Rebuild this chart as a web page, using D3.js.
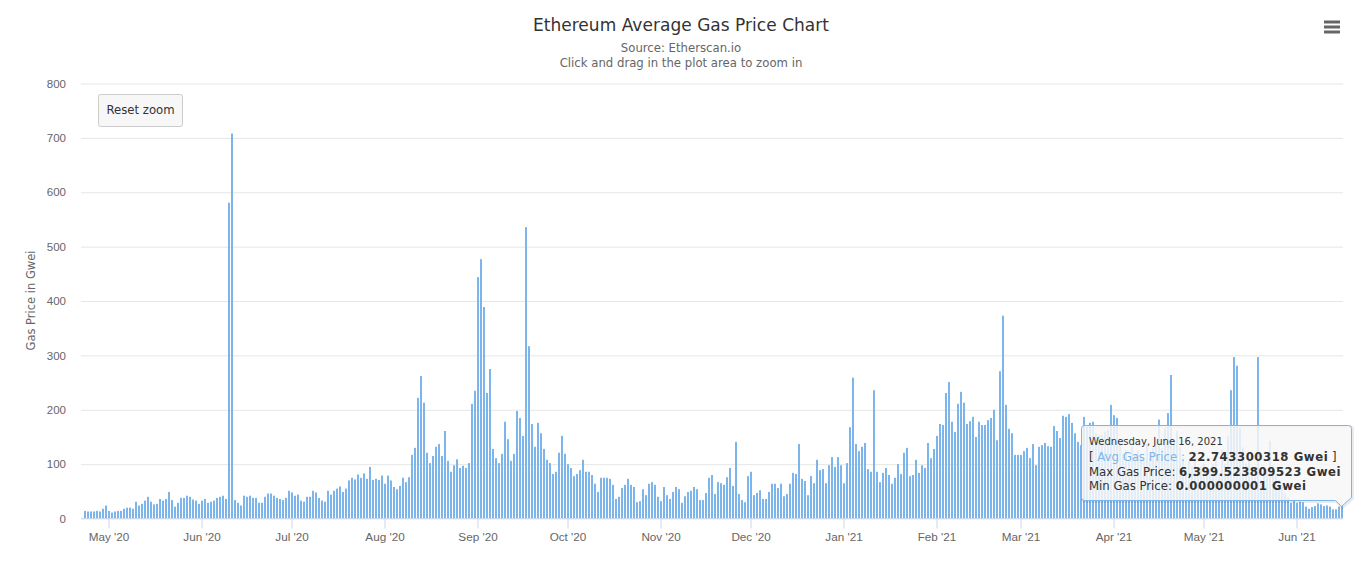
<!DOCTYPE html>
<html>
<head>
<meta charset="utf-8">
<title>Ethereum Average Gas Price Chart</title>
<script src="https://cdn.jsdelivr.net/npm/d3@7"></script>
<style>
  html, body { margin: 0; padding: 0; background: #fff; overflow: hidden; }
  svg { display: block; font-family: "DejaVu Sans", sans-serif; }
</style>
</head>
<body>
<svg id="chart" width="1364" height="585"></svg>
<script>
// average gas price per day in Gwei, one array per month
const apr20 = [13,12,12,12,13,12,17,23];
const may20 = [13,10,12,13,13,17,19,19,17,30,23,26,32,39,30,25,26,35,32,35,48,33,21,28,37,37,41,39,34,32,26];
const jun20 = [32,35,28,30,32,37,39,41,35,580,707,33,28,23,41,39,41,37,37,28,28,39,45,45,41,37,35,33,37,50];
const jul20 = [47,41,43,32,30,39,39,50,47,37,32,30,50,43,50,54,58,48,54,69,74,71,80,74,82,72,94,70,72,70,78];
const aug20 = [63,78,69,57,53,59,74,66,75,116,129,221,261,212,120,101,114,131,136,114,160,105,85,97,108,92,96,92,101,210,234];
const sep20 = [443,476,388,230,274,127,110,101,118,177,145,105,118,197,184,151,535,316,173,131,175,156,127,107,101,81,85,120,151,118];
const oct20 = [99,92,77,81,88,107,85,85,79,63,48,74,74,74,72,61,35,39,55,61,72,61,57,29,31,53,42,63,66,61,39];
const nov20 = [31,57,42,35,48,57,53,28,40,48,50,57,53,33,33,46,74,79,44,66,64,61,75,92,59,140,44,33,29,77];
const dec20 = [85,42,46,51,35,35,48,63,63,55,63,40,44,63,83,81,136,72,68,42,77,64,107,88,90,64,97,112,94,112,97];
const jan21 = [64,101,167,258,136,123,131,138,90,85,235,85,66,83,92,79,63,74,99,81,120,129,77,79,107,83,97,92,138,110,127];
const feb21 = [151,173,171,230,250,177,158,210,232,212,173,178,186,149,177,171,171,180,184,199,143,270,372,208,164,156,116,116];
const mar21 = [116,123,129,110,136,97,131,134,138,132,131,169,160,147,188,186,191,175,156,140,134,186,168,175,177,156,153,153,159,162,208];
const apr21 = [189,184,140,118,125,105,132,118,125,112,105,135,120,128,140,181,128,165,193,263,140,160,130,110,90,105,95,110,85,95];
const may21 = [100,85,90,100,110,80,125,100,150,235,296,280,165,130,100,110,90,75,296,70,90,85,142,95,80,70,60,45,38,28,31];
const jun21 = [28,30,29,21,17,20,22,27,25,22,23,21,16,16,21,22.743300318];

const gasPrice = [].concat(apr20, may20, jun20, jul20, aug20, sep20, oct20, nov20, dec20, jan21, feb21, mar21, apr21, may21, jun21);
const firstDay = Date.UTC(2020, 3, 23);
const days = gasPrice.map((d, i) => new Date(firstDay + i * 864e5));

const monthTicks = [
  "2020-05-01","2020-06-01","2020-07-01","2020-08-01","2020-09-01","2020-10-01","2020-11-01",
  "2020-12-01","2021-01-01","2021-02-01","2021-03-01","2021-04-01","2021-05-01","2021-06-01"
].map(s => new Date(s + "T00:00:00Z"));
const priceTicks = [0,100,200,300,400,500,600,700,800];

const tooltipDate = "Wednesday, June 16, 2021";
const tooltipRows = [
  { label: "Max Gas Price: ", value: "6,399.523809523 Gwei" },
  { label: "Min Gas Price: ", value: "0.000000001 Gwei" }
];

const barColor = "#7cb5ec";
const svg = d3.select("#chart");

const x = d3.scaleUtc().domain([days[0], days[days.length - 1]]).range([85, 1342]);
const y = d3.scaleLinear().domain([0, 800]).range([518.5, 83.5]);

svg.append("rect").attr("width", 1364).attr("height", 585).attr("fill", "#fff");

// title block
svg.append("text").attr("x", 681).attr("y", 31).attr("text-anchor", "middle")
  .attr("fill", "#333").style("font-size", "17px").style("letter-spacing", "0.03px").text("Ethereum Average Gas Price Chart");
svg.append("text").attr("x", 681).attr("y", 52).attr("text-anchor", "middle")
  .attr("fill", "#666").style("font-size", "11.7px").text("Source: Etherscan.io");
svg.append("text").attr("x", 681).attr("y", 67).attr("text-anchor", "middle")
  .attr("fill", "#666").style("font-size", "11.7px").text("Click and drag in the plot area to zoom in");

// y axis with the grid lines as its ticks
const yAxis = svg.append("g").attr("transform", "translate(81,0)")
  .call(d3.axisLeft(y).tickValues(priceTicks).tickSize(-1262).tickPadding(15));
yAxis.select(".domain").remove();
yAxis.selectAll("line").attr("stroke", "#e6e6e6");
yAxis.selectAll("text").attr("fill", "#666").style("font-size", "11.5px").style("font-family", "inherit");

svg.append("text").attr("transform", "translate(35,300.5) rotate(-90)").attr("text-anchor", "middle")
  .attr("fill", "#666").style("font-size", "11.5px").text("Gas Price in Gwei");

// bars
svg.append("g").selectAll("rect").data(gasPrice).join("rect")
  .attr("x", (d, i) => x(days[i]) - 1)
  .attr("width", 2)
  .attr("y", d => y(d) - 0.5)
  .attr("height", d => y(0) - y(d))
  .attr("fill", barColor);

// x axis
const xAxis = svg.append("g").attr("transform", "translate(-0.5,518.5)")
  .call(d3.axisBottom(x).tickValues(monthTicks).tickFormat(d3.utcFormat("%b '%y")).tickSize(10).tickPadding(4).tickSizeOuter(0));
xAxis.select(".domain").attr("stroke", "#ccd6eb").attr("d", "M81.5,0H1343.5");
xAxis.selectAll("line").attr("stroke", "#ccd6eb");
xAxis.selectAll("text").attr("fill", "#666").style("font-size", "11.7px").style("font-family", "inherit");

// reset zoom button
const resetBtn = svg.append("g").attr("transform", "translate(98.5,94.5)");
resetBtn.append("rect").attr("width", 84).attr("height", 32).attr("rx", 2)
  .attr("fill", "#f7f7f7").attr("stroke", "#ccc");
resetBtn.append("text").attr("x", 42).attr("y", 19.5).attr("text-anchor", "middle")
  .attr("fill", "#333").style("font-size", "11.7px").text("Reset zoom");

// export menu icon
svg.append("g").selectAll("line").data([22, 27, 32]).join("line")
  .attr("x1", 1324).attr("x2", 1340).attr("y1", d => d).attr("y2", d => d)
  .attr("stroke", "#666").attr("stroke-width", 3);

// tooltip for the last day
const tip = svg.append("g").attr("transform", "translate(1081.5,425.5)");
const tipShape = "M3,0H267Q270,0 270,3V72L260,81L254,75H3Q0,75 0,72V3Q0,0 3,0Z";
tip.append("path").attr("d", tipShape).attr("transform", "translate(1,1)")
  .attr("fill", "none").attr("stroke", "#000").attr("stroke-opacity", 0.08).attr("stroke-width", 3);
tip.append("path").attr("d", tipShape)
  .attr("fill", "#f7f7f7").attr("fill-opacity", 0.85).attr("stroke", barColor);

tip.append("text").attr("x", 7.5).attr("y", 19.5).attr("fill", "#333")
  .style("font-size", "10px").text(tooltipDate);

const avgRow = tip.append("text").attr("x", 7.5).attr("y", 35).attr("fill", "#333").style("font-size", "11.7px");
avgRow.append("tspan").text("[ ");
avgRow.append("tspan").attr("fill", barColor).text("Avg Gas Price : ");
avgRow.append("tspan").style("font-weight", "bold").style("letter-spacing", "0.55px").text("22.743300318 Gwei");
avgRow.append("tspan").text(" ]");

tooltipRows.forEach((r, i) => {
  const row = tip.append("text").attr("x", 7.5).attr("y", 50 + i * 14.7).attr("fill", "#333").style("font-size", "11.7px");
  row.append("tspan").text(r.label);
  row.append("tspan").style("font-weight", "bold").style("letter-spacing", "0.55px").text(r.value);
});
</script>
</body>
</html>
